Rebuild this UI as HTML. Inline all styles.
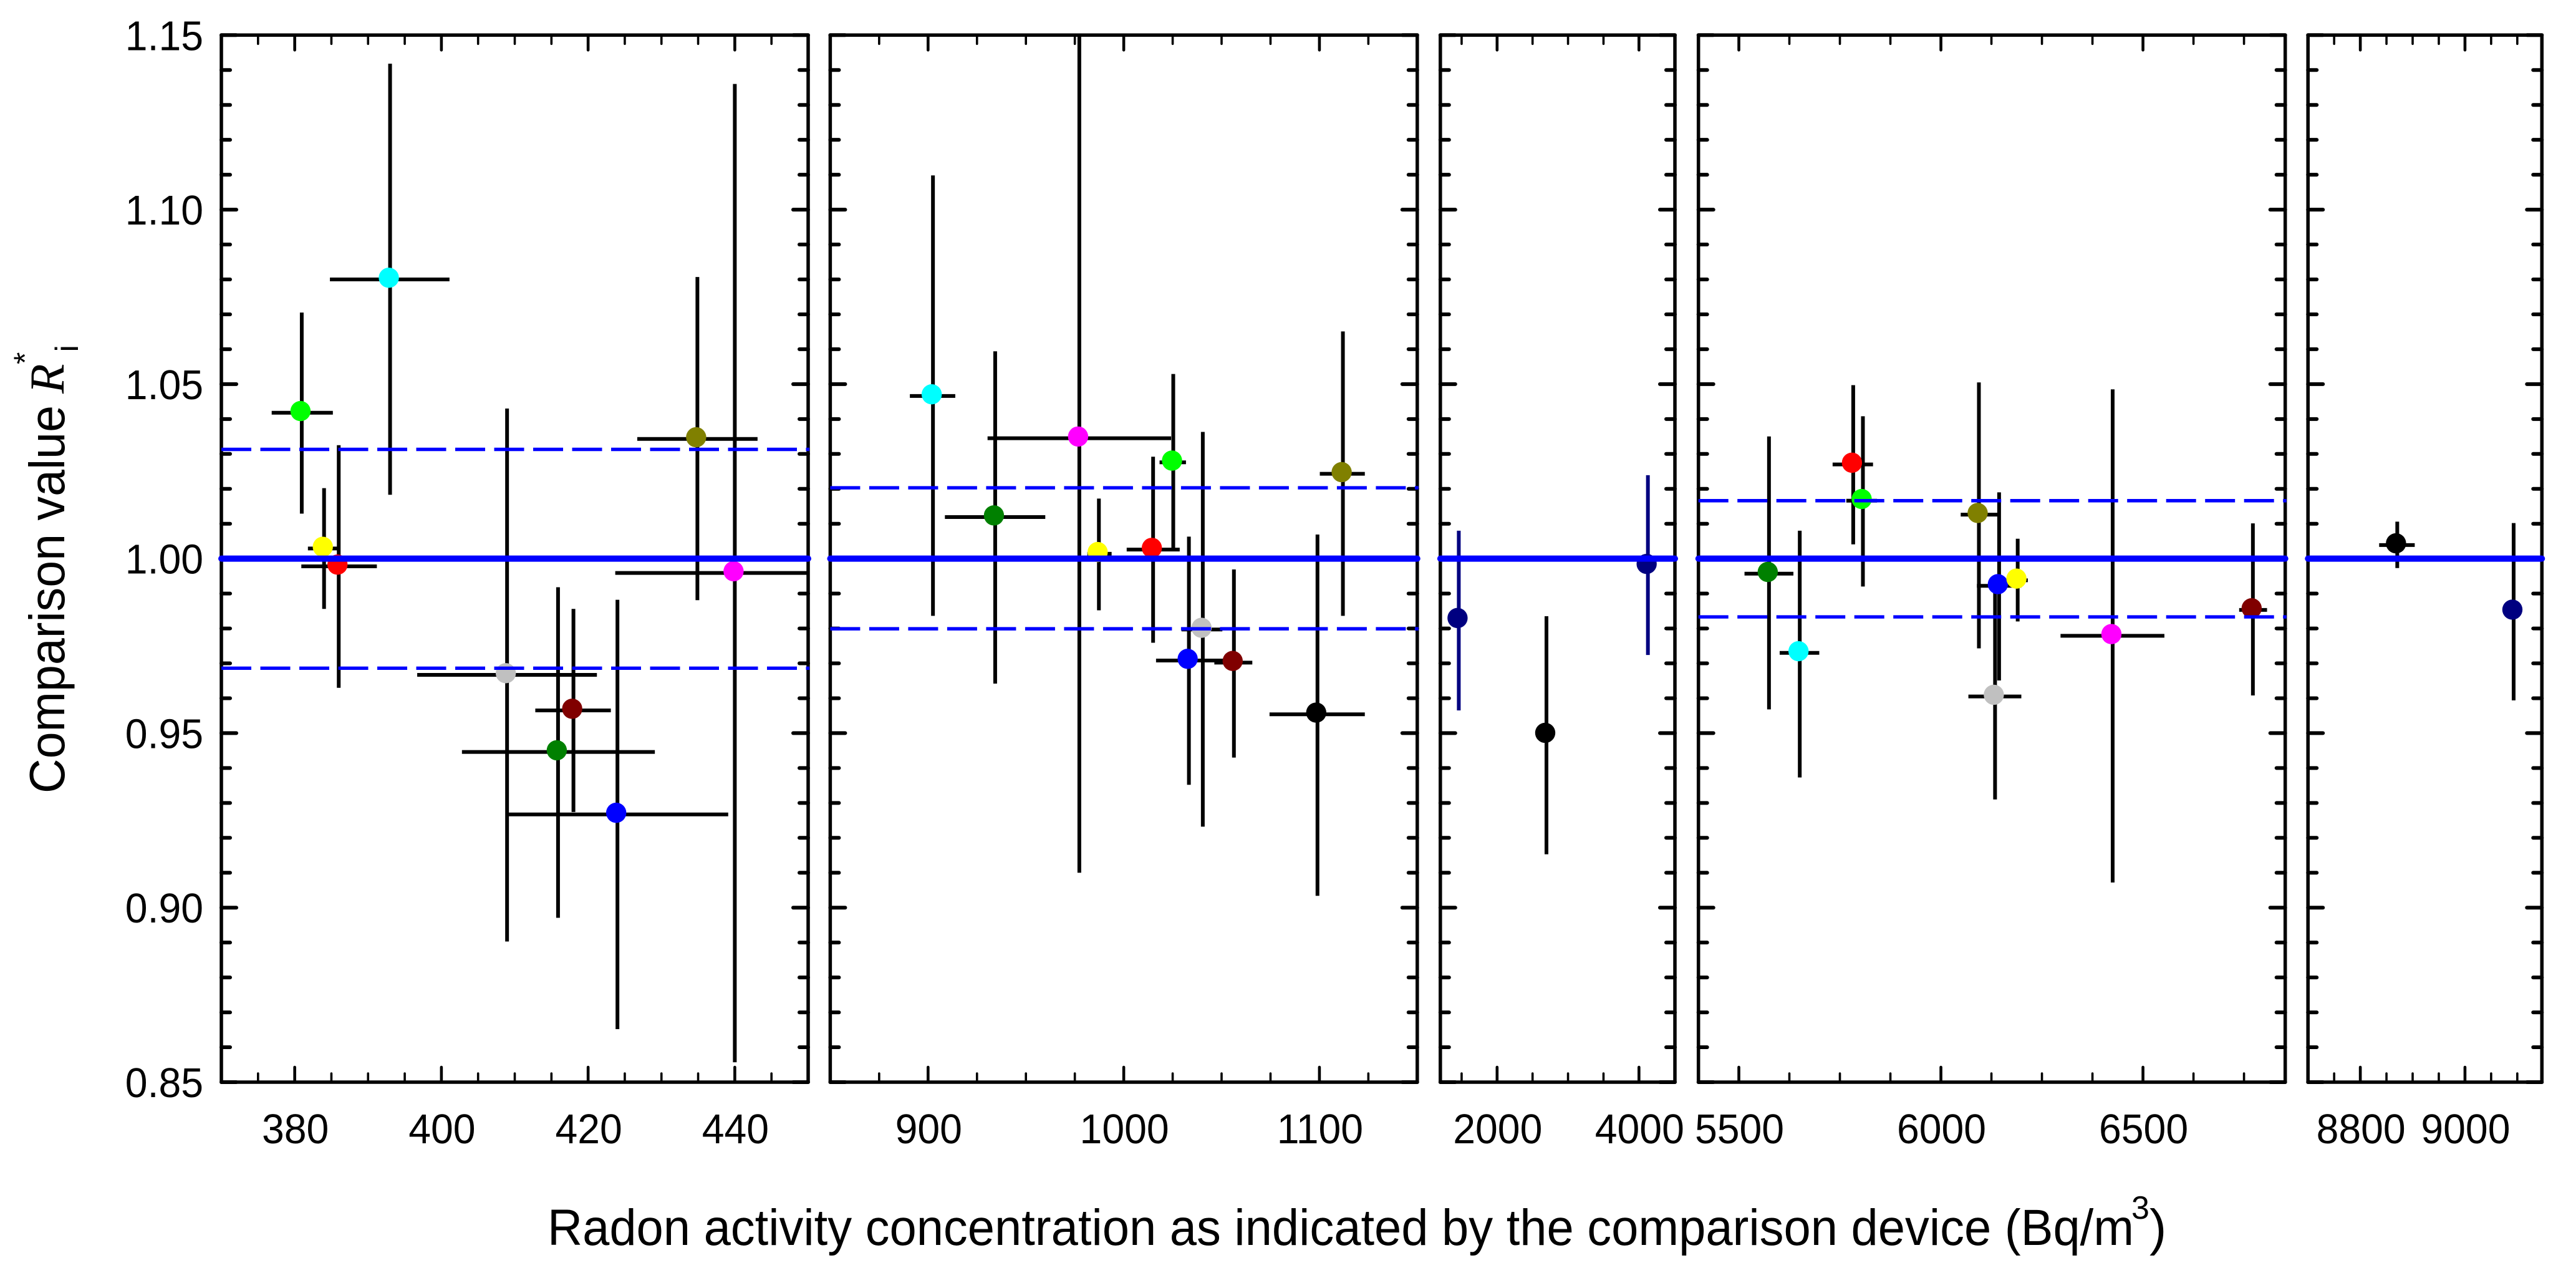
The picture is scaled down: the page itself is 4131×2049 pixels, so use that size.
<!DOCTYPE html>
<html>
<head>
<meta charset="utf-8">
<title>Comparison value vs radon activity concentration</title>
<style>
html,body{margin:0;padding:0;background:#fff;}
svg{display:block;}
text{font-family:"Liberation Sans",sans-serif;fill:#000;}
</style>
</head>
<body>
<svg id="chart" xmlns="http://www.w3.org/2000/svg" width="4131" height="2049" viewBox="0 0 4131 2049">
<rect x="0" y="0" width="4131" height="2049" fill="#fff"></rect>
<g id="panels"></g>
<g>
<text transform="translate(103 1272) rotate(-90)" font-size="80" textLength="622" lengthAdjust="spacingAndGlyphs">Comparison value</text>
<text transform="translate(102 631) rotate(-90)" font-size="78" font-style="italic" style="font-family:'Liberation Serif',serif">R</text>
<text transform="translate(57 584) rotate(-90)" font-size="50">*</text>
<text transform="translate(125 564.5) rotate(-90)" font-size="52">i</text>
</g>
<g>
<text x="878" y="1996" font-size="82" textLength="2544" lengthAdjust="spacingAndGlyphs">Radon activity concentration as indicated by the comparison device (Bq/m</text>
<text x="3418" y="1954" font-size="52">3</text>
<text x="3447" y="1996" font-size="82">)</text>
</g>
</svg>
<script>
// ---- Y axis data ----
const yDomain = [0.85, 1.15];
const yMajorTicks = [0.85, 0.90, 0.95, 1.00, 1.05, 1.10, 1.15];
const yMinorTicks = [0.86, 0.87, 0.88, 0.89, 0.91, 0.92, 0.93, 0.94, 0.96, 0.97, 0.98, 0.99, 1.01, 1.02, 1.03, 1.04, 1.06, 1.07, 1.08, 1.09, 1.11, 1.12, 1.13, 1.14];
const yTickLabels = ['0.85', '0.90', '0.95', '1.00', '1.05', '1.10', '1.15'];

// ---- Panel 1 data ----
const p1Domain = [370, 450];
const p1MajorTicks = [380, 400, 420, 440];
const p1MinorTicks = [375, 385, 390, 395, 405, 410, 415, 425, 430, 435, 445];
const p1TickLabels = ['380', '400', '420', '440'];
const p1Reference = [1.0];
const p1Limits = [0.9686, 1.0313];
const p1Devices = ['lime', 'cyan', 'yellow', 'red', 'olive', 'magenta', 'gray', 'maroon', 'green', 'blue'];
const p1X = [380.96, 393.0, 384.0, 386.0, 434.9, 440.0, 408.95, 418.0, 415.9, 424.0];
const p1XLow = [376.86, 384.8, 381.8, 380.9, 426.7, 423.7, 396.7, 412.8, 402.8, 409.2];
const p1XHigh = [385.2, 401.1, 386.1, 391.2, 443.1, 449.8, 421.2, 423.1, 429.1, 439.1];
const p1Y = [1.0418, 1.0800, 1.0029, 0.9978, 1.0343, 0.9959, 0.9667, 0.9565, 0.9446, 0.9267];
const p1YLow = [1.0129, 1.0183, 0.9856, 0.9630, 0.9881, 0.8557, 0.8903, 0.9274, 0.8971, 0.8652];
const p1YHigh = [1.0705, 1.1418, 1.0202, 1.0325, 1.0807, 1.1360, 1.0430, 0.9856, 0.9918, 0.9882];

// ---- Panel 2 data ----
const p2Domain = [850, 1150];
const p2MajorTicks = [900, 1000, 1100];
const p2MinorTicks = [875, 925, 950, 975, 1025, 1050, 1075, 1125];
const p2TickLabels = ['900', '1000', '1100'];
const p2Reference = [1.0];
const p2Limits = [0.9799, 1.0203];
const p2Devices = ['cyan', 'green', 'magenta', 'lime', 'yellow', 'red', 'gray', 'blue', 'maroon', 'black', 'olive'];
const p2X = [902.5, 934.3, 977.3, 1025.3, 987.3, 1015.0, 1040.4, 1033.3, 1056.3, 1099.0, 1112.0];
const p2XLow = [890.7, 908.6, 930.4, 1018.3, 981.4, 1001.5, 1029.5, 1016.5, 1046.3, 1074.5, 1100.2];
const p2XHigh = [913.9, 959.9, 1024.2, 1031.8, 993.8, 1028.6, 1050.4, 1050.7, 1065.7, 1123.2, 1123.2];
const p2Y = [1.0466, 1.0119, 1.0345, 1.0276, 1.0014, 1.0026, 0.9797, 0.9708, 0.9702, 0.9554, 1.0243];
const p2YLow = [0.9836, 0.9642, 0.9100, 1.0027, 0.9852, 0.9759, 0.9232, 0.9352, 0.9430, 0.9034, 0.9836];
const p2YHigh = [1.1098, 1.0594, 1.1500, 1.0529, 1.0172, 1.0292, 1.0363, 1.0063, 0.9969, 1.0069, 1.0651];

// ---- Panel 3 data ----
const p3Domain = [1200, 4507];
const p3MajorTicks = [2000, 4000];
const p3MinorTicks = [1500, 2500, 3000, 3500];
const p3TickLabels = ['2000', '4000'];
const p3Reference = [1.0];
const p3Limits = [];
const p3Devices = ['navy', 'black', 'navy'];
const p3X = [1460, 2696, 4126];
const p3XLow = [1460, 2696, 4126];
const p3XHigh = [1460, 2696, 4126];
const p3Y = [0.9825, 0.9496, 0.9980];
const p3YLow = [0.9565, 0.9153, 0.9724];
const p3YHigh = [1.0080, 0.9835, 1.0239];

// ---- Panel 4 data ----
const p4Domain = [5400, 6852];
const p4MajorTicks = [5500, 6000, 6500];
const p4MinorTicks = [5625, 5750, 5875, 6125, 6250, 6375, 6625, 6750];
const p4TickLabels = ['5500', '6000', '6500'];
const p4Reference = [1.0];
const p4Limits = [0.9833, 1.0166];
const p4Devices = ['green', 'cyan', 'red', 'lime', 'olive', 'gray', 'blue', 'yellow', 'magenta', 'maroon'];
const p4X = [5574.6, 5650.7, 5783, 5807, 6094, 6134, 6144, 6190, 6425, 6772];
const p4XLow = [5514, 5601, 5732, 5766, 6049, 6068, 6089, 6166, 6296, 6738];
const p4XHigh = [5635, 5699, 5832, 5842, 6141, 6199, 6199, 6215, 6553, 6807];
const p4Y = [0.9957, 0.9730, 1.0270, 1.0166, 1.0126, 0.9605, 0.9922, 0.9938, 0.9779, 0.9853];
const p4YLow = [0.9568, 0.9373, 1.0041, 0.9920, 0.9743, 0.9310, 0.9651, 0.9820, 0.9072, 0.9608];
const p4YHigh = [1.0350, 1.0080, 1.0497, 1.0408, 1.0505, 0.9910, 1.0190, 1.0057, 1.0485, 1.0101];

// ---- Panel 5 data ----
const p5Domain = [8700, 9147];
const p5MajorTicks = [8800, 9000];
const p5MinorTicks = [8750, 8850, 8900, 8950, 9050, 9100];
const p5TickLabels = ['8800', '9000'];
const p5Reference = [1.0];
const p5Limits = [];
const p5Devices = ['black', 'navy'];
const p5X = [8870.6, 9093];
const p5XLow = [8836, 9093];
const p5XHigh = [8904, 9093];
const p5Y = [1.0039, 0.9849];
const p5YLow = [0.9973, 0.9594];
const p5YHigh = [1.0106, 1.0102];

// ---- Layout and style (not data) ----
const SVG_NS = 'http://www.w3.org/2000/svg';
const PLOT_TOP = 56.3;
const PLOT_BOTTOM = 1735;
const deviceColor = {
  lime: '#00ff00', cyan: '#00ffff', yellow: '#ffff00', red: '#ff0000', olive: '#808000',
  magenta: '#ff00ff', gray: '#c0c0c0', maroon: '#800000', green: '#008000', blue: '#0000ff',
  navy: '#000080', black: '#000000'
};

function yPx(v) {
  return PLOT_BOTTOM - (v - yDomain[0]) / (yDomain[1] - yDomain[0]) * (PLOT_BOTTOM - PLOT_TOP);
}
function makeXScale(domain, left, right) {
  return function (v) {
    return left + (v - domain[0]) / (domain[1] - domain[0]) * (right - left);
  };
}
function addLine(parent, x1, y1, x2, y2, color, width) {
  const el = document.createElementNS(SVG_NS, 'line');
  el.setAttribute('x1', x1);
  el.setAttribute('y1', y1);
  el.setAttribute('x2', x2);
  el.setAttribute('y2', y2);
  el.setAttribute('stroke', color);
  el.setAttribute('stroke-width', width);
  parent.appendChild(el);
  return el;
}
function addLabel(parent, x, y, anchor, content) {
  const el = document.createElementNS(SVG_NS, 'text');
  el.setAttribute('x', x);
  el.setAttribute('y', y);
  el.setAttribute('text-anchor', anchor);
  el.setAttribute('font-size', '67');
  el.textContent = content;
  parent.appendChild(el);
  el.setAttribute('textLength', (el.getComputedTextLength() * 0.96).toFixed(1));
  el.setAttribute('lengthAdjust', 'spacingAndGlyphs');
  return el;
}

function drawPanel(index, left, right, domain, majorTicks, minorTicks, tickLabels, reference, limits,
                   devices, xs, xLow, xHigh, ys, yLow, yHigh) {
  const root = document.getElementById('panels');
  const g = document.createElementNS(SVG_NS, 'g');
  
  
  root.appendChild(g);
  const xPx = makeXScale(domain, left, right);

  // error bars and markers
  devices.forEach(function (device, i) {
    const barColor = (index === 3 && device === 'navy') ? deviceColor.navy : '#000';
    const hBar = addLine(g, xPx(xLow[i]), yPx(ys[i]), xPx(xHigh[i]), yPx(ys[i]), barColor, 6);
    
    
    const vBar = addLine(g, xPx(xs[i]), yPx(yLow[i]), xPx(xs[i]), yPx(yHigh[i]), barColor, 6);
    
    
  });
  devices.forEach(function (device, i) {
    const point = document.createElementNS(SVG_NS, 'circle');
    point.setAttribute('cx', xPx(xs[i]) - 2);
    point.setAttribute('cy', yPx(ys[i]) - 2.7);
    point.setAttribute('r', 16.2);
    point.setAttribute('fill', deviceColor[device]);
    
    
    g.appendChild(point);
  });

  // ticks
  majorTicks.forEach(function (t, i) {
    const top = addLine(g, xPx(t), PLOT_TOP, xPx(t), PLOT_TOP + 24, '#000', 4.6);
    top.setAttribute('stroke-linecap', 'round');
    
    
    const bottom = addLine(g, xPx(t), PLOT_BOTTOM, xPx(t), PLOT_BOTTOM - 24, '#000', 4.6);
    bottom.setAttribute('stroke-linecap', 'round');
    
    
    const label = addLabel(g, xPx(t) + 1, 1833, 'middle', tickLabels[i]);
    
    
  });
  minorTicks.forEach(function (t) {
    const top = addLine(g, xPx(t), PLOT_TOP, xPx(t), PLOT_TOP + 14, '#000', 3.6);
    top.setAttribute('stroke-linecap', 'round');
    
    
    const bottom = addLine(g, xPx(t), PLOT_BOTTOM, xPx(t), PLOT_BOTTOM - 14, '#000', 3.6);
    bottom.setAttribute('stroke-linecap', 'round');
    
    
  });
  yMajorTicks.forEach(function (t, i) {
    const l = addLine(g, left, yPx(t), left + 24, yPx(t), '#000', 6);
    l.setAttribute('stroke-linecap', 'round');
    
    
    const r = addLine(g, right, yPx(t), right - 24, yPx(t), '#000', 6);
    r.setAttribute('stroke-linecap', 'round');
    
    
    if (index === 1) {
      const label = addLabel(g, 326, yPx(t) + 24, 'end', yTickLabels[i]);
      
      
    }
  });
  yMinorTicks.forEach(function (t) {
    const l = addLine(g, left, yPx(t), left + 14, yPx(t), '#000', 6);
    l.setAttribute('stroke-linecap', 'round');
    
    
    const r = addLine(g, right, yPx(t), right - 14, yPx(t), '#000', 6);
    r.setAttribute('stroke-linecap', 'round');
    
    
  });

  // frame
  const frame = document.createElementNS(SVG_NS, 'rect');
  frame.setAttribute('x', left);
  frame.setAttribute('y', PLOT_TOP);
  frame.setAttribute('width', right - left);
  frame.setAttribute('height', PLOT_BOTTOM - PLOT_TOP);
  frame.setAttribute('fill', 'none');
  frame.setAttribute('stroke', '#000');
  frame.setAttribute('stroke-width', 5.5);
  frame.setAttribute('stroke-linejoin', 'round');
  
  
  g.appendChild(frame);

  // reference lines
  limits.forEach(function (v) {
    const dashed = addLine(g, left, yPx(v), right + 2, yPx(v), '#0000ff', 5.4);
    dashed.setAttribute('stroke-dasharray', '48 14.5');
    
    
  });
  reference.forEach(function (v) {
    const solid = addLine(g, left, yPx(v), right, yPx(v), '#0000ff', 10);
    solid.setAttribute('stroke-linecap', 'round');
    
    
  });
}

drawPanel(1, 355, 1296, p1Domain, p1MajorTicks, p1MinorTicks, p1TickLabels, p1Reference, p1Limits,
  p1Devices, p1X, p1XLow, p1XHigh, p1Y, p1YLow, p1YHigh);
drawPanel(2, 1331.4, 2272.8, p2Domain, p2MajorTicks, p2MinorTicks, p2TickLabels, p2Reference, p2Limits,
  p2Devices, p2X, p2XLow, p2XHigh, p2Y, p2YLow, p2YHigh);
drawPanel(3, 2309.8, 2686, p3Domain, p3MajorTicks, p3MinorTicks, p3TickLabels, p3Reference, p3Limits,
  p3Devices, p3X, p3XLow, p3XHigh, p3Y, p3YLow, p3YHigh);
drawPanel(4, 2723.7, 3664.7, p4Domain, p4MajorTicks, p4MinorTicks, p4TickLabels, p4Reference, p4Limits,
  p4Devices, p4X, p4XLow, p4XHigh, p4Y, p4YLow, p4YHigh);
drawPanel(5, 3701.2, 4076.3, p5Domain, p5MajorTicks, p5MinorTicks, p5TickLabels, p5Reference, p5Limits,
  p5Devices, p5X, p5XLow, p5XHigh, p5Y, p5YLow, p5YHigh);
</script>
</body>
</html>
